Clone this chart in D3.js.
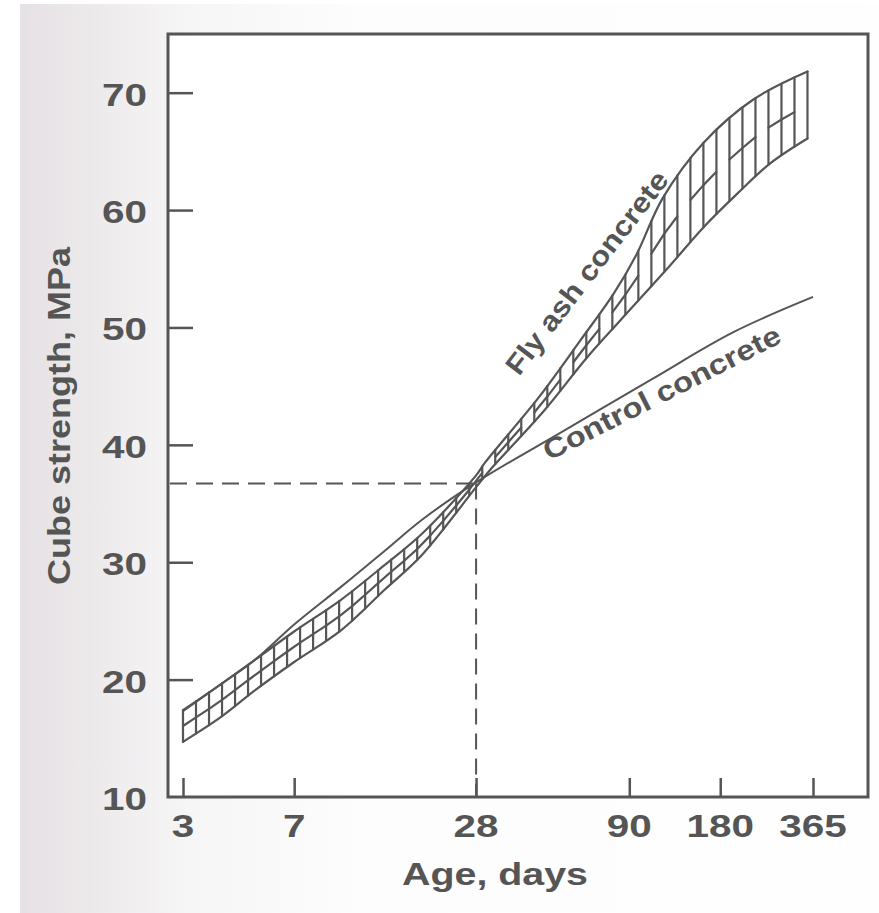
<!DOCTYPE html>
<html>
<head>
<meta charset="utf-8">
<script src="https://cdn.jsdelivr.net/npm/d3@7/dist/d3.min.js"></script>
<style>
  html, body { margin: 0; padding: 0; background: #ffffff; }
  svg { display: block; }
  text { font-family: "Liberation Sans", Arial, Helvetica, sans-serif; font-weight: bold; fill: #555555; }
</style>
</head>
<body>
<svg id="chart" width="879" height="913"></svg>
<script>
// ---- data ----
const xTickDays = [3, 7, 28, 90, 180, 365];
const yTickValues = [10, 20, 30, 40, 50, 60, 70];

const upperDays = [3, 4, 5.2, 7, 10, 14, 18.5, 28, 30, 45, 62, 80, 95, 116, 158, 231, 350];
const upperVals = [17.4, 19.6, 21.7, 24.1, 26.8, 29.8, 32.4, 37.4, 38.5, 44.0, 48.9, 52.9, 56.2, 61.0, 65.7, 69.4, 71.8];

const lowerDays = [3, 4, 5.2, 7, 10, 14, 18.5, 28, 31, 47, 65, 84, 123, 158, 205, 264, 350];
const lowerVals = [14.7, 16.8, 19.1, 21.5, 24.2, 27.7, 30.6, 36.4, 37.8, 42.9, 47.4, 50.6, 55.3, 58.5, 61.4, 64.0, 66.1];

const controlDays = [3, 4, 5.2, 7, 10, 14, 18.5, 28, 53, 107, 199, 365];
const controlVals = [17.3, 19.6, 21.7, 24.7, 27.9, 31.0, 33.6, 36.8, 41.0, 45.6, 49.6, 52.6];

const refDay = 28;
const refStrength = 36.7;

const xTitle = "Age, days";
const yTitle = "Cube strength, MPa";
const flyAshLabel = "Fly ash concrete";
const controlLabel = "Control concrete";

// ---- layout ----
const frame = { left: 168, right: 868, top: 34, bottom: 797 };
const ink = "#555555";

const svg = d3.select("#chart");

// page background (scanned sheet)
const defs = svg.append("defs");
const grad = defs.append("linearGradient").attr("id", "pageGrad")
  .attr("x1", "0").attr("x2", "1").attr("y1", "0").attr("y2", "0");
grad.append("stop").attr("offset", "0").attr("stop-color", "#e6e1e4");
grad.append("stop").attr("offset", "0.08").attr("stop-color", "#ece9eb");
grad.append("stop").attr("offset", "0.2").attr("stop-color", "#f7f6f7");
grad.append("stop").attr("offset", "0.4").attr("stop-color", "#fdfdfd");
grad.append("stop").attr("offset", "1").attr("stop-color", "#fefefe");

svg.append("rect").attr("x", 0).attr("y", 0).attr("width", 879).attr("height", 913).attr("fill", "#ffffff");
svg.append("rect").attr("x", 20).attr("y", 4).attr("width", 859).attr("height", 909).attr("fill", "url(#pageGrad)");
svg.append("rect").attr("x", frame.left).attr("y", frame.top)
  .attr("width", frame.right - frame.left).attr("height", frame.bottom - frame.top).attr("fill", "#ffffff");

// ---- scales ----
const x = d3.scaleLog().domain([3, 365]).range([183, 813]);
const y = d3.scaleLinear().domain([10, 75]).range([frame.bottom, frame.top]);

// ---- dashed reference lines ----
svg.append("line")
  .attr("x1", frame.left + 2).attr("x2", x(refDay))
  .attr("y1", y(refStrength)).attr("y2", y(refStrength))
  .attr("stroke", ink).attr("stroke-width", 2).attr("stroke-dasharray", "17,9");
svg.append("line")
  .attr("x1", x(refDay)).attr("x2", x(refDay))
  .attr("y1", y(refStrength)).attr("y2", frame.bottom)
  .attr("stroke", ink).attr("stroke-width", 2).attr("stroke-dasharray", "16,9");

// ---- fly ash band ----
const upper = upperDays.map((d, i) => ({ d, v: upperVals[i] }));
const lower = lowerDays.map((d, i) => ({ d, v: lowerVals[i] }));
const control = controlDays.map((d, i) => ({ d, v: controlVals[i] }));

const lineGen = d3.line().x(p => x(p.d)).y(p => y(p.v)).curve(d3.curveCatmullRom.alpha(0.5));

const bandG = svg.append("g").attr("fill", "none").attr("stroke", ink)
  .attr("stroke-width", 2.2).attr("stroke-linecap", "round");
const upPath = bandG.append("path").attr("d", lineGen(upper));
const loPath = bandG.append("path").attr("d", lineGen(lower));

// lookup: y pixel on a path at given x pixel
function sampler(pathNode) {
  const L = pathNode.getTotalLength();
  const pts = [];
  for (let s = 0; s <= L; s += 0.5) pts.push(pathNode.getPointAtLength(s));
  pts.push(pathNode.getPointAtLength(L));
  return function (px) {
    let i = d3.bisector(p => p.x).left(pts, px);
    if (i <= 0) return pts[0].y;
    if (i >= pts.length) return pts[pts.length - 1].y;
    const a = pts[i - 1], b = pts[i];
    const t = b.x === a.x ? 0 : (px - a.x) / (b.x - a.x);
    return a.y + t * (b.y - a.y);
  };
}
const upAt = sampler(upPath.node());
const loAt = sampler(loPath.node());

const xStart = x(Math.max(upperDays[0], lowerDays[0]));
const xEnd = x(Math.min(upperDays[upperDays.length - 1], lowerDays[lowerDays.length - 1]));
const nCells = Math.round((xEnd - xStart) / 13);
const hatchX = d3.range(nCells + 1).map(i => xStart + (xEnd - xStart) * i / nCells);

bandG.selectAll("line.hatch").data(hatchX).join("line")
  .attr("class", "hatch")
  .attr("x1", px => px).attr("x2", px => px)
  .attr("y1", px => upAt(px)).attr("y2", px => loAt(px));

const xCross = x(refDay);
const cells = d3.range(nCells).filter(i => hatchX[i] < xCross || i % 3 !== 2);
bandG.selectAll("line.mid").data(cells).join("line")
  .attr("class", "mid")
  .attr("x1", i => hatchX[i]).attr("x2", i => hatchX[i + 1])
  .attr("y1", i => (upAt(hatchX[i]) + loAt(hatchX[i])) / 2)
  .attr("y2", i => (upAt(hatchX[i + 1]) + loAt(hatchX[i + 1])) / 2);

// ---- control line ----
svg.append("path").attr("d", lineGen(control))
  .attr("fill", "none").attr("stroke", ink).attr("stroke-width", 2);

// ---- frame ----
svg.append("rect").attr("x", frame.left).attr("y", frame.top)
  .attr("width", frame.right - frame.left).attr("height", frame.bottom - frame.top)
  .attr("fill", "none").attr("stroke", ink).attr("stroke-width", 3);

// ---- y axis ----
const yAxis = d3.axisRight(y).tickValues(yTickValues).tickSize(25).tickFormat("");
const yAx = svg.append("g").attr("transform", `translate(${frame.left},0)`).call(yAxis);
yAx.select(".domain").remove();
yAx.selectAll(".tick line").attr("stroke", ink).attr("stroke-width", 2.5)
  .attr("display", d => d === 10 ? "none" : null);

svg.append("g").selectAll("text").data(yTickValues).join("text")
  .attr("x", 147).attr("y", d => y(d) + 13)
  .attr("text-anchor", "end")
  .attr("font-size", 31)
  .attr("textLength", d => String(d).length * 22.5)
  .attr("lengthAdjust", "spacingAndGlyphs")
  .text(d => d);

// ---- x axis ----
const xAxis = d3.axisTop(x).tickValues(xTickDays).tickSize(19).tickFormat("");
const xAx = svg.append("g").attr("transform", `translate(0,${frame.bottom})`).call(xAxis);
xAx.select(".domain").remove();
xAx.selectAll(".tick line").attr("stroke", ink).attr("stroke-width", 2.5);

svg.append("g").selectAll("text").data(xTickDays).join("text")
  .attr("x", d => x(d)).attr("y", 837)
  .attr("text-anchor", "middle")
  .attr("font-size", 31)
  .attr("textLength", d => String(d).length * 22.5)
  .attr("lengthAdjust", "spacingAndGlyphs")
  .text(d => d);

// ---- titles ----
svg.append("text")
  .attr("x", 495).attr("y", 885).attr("text-anchor", "middle")
  .attr("font-size", 32).attr("textLength", 186).attr("lengthAdjust", "spacingAndGlyphs")
  .text(xTitle);

svg.append("text")
  .attr("transform", "translate(70,416) rotate(-90)")
  .attr("text-anchor", "middle")
  .attr("font-size", 32).attr("textLength", 338).attr("lengthAdjust", "spacingAndGlyphs")
  .text(yTitle);

// ---- curve labels ----
svg.append("text")
  .attr("transform", "translate(519,377) rotate(-52.5)")
  .attr("font-size", 28).attr("textLength", 248).attr("lengthAdjust", "spacingAndGlyphs")
  .text(flyAshLabel);

svg.append("text")
  .attr("transform", "translate(549,461) rotate(-27)")
  .attr("font-size", 28).attr("textLength", 263).attr("lengthAdjust", "spacingAndGlyphs")
  .text(controlLabel);
</script>
</body>
</html>
